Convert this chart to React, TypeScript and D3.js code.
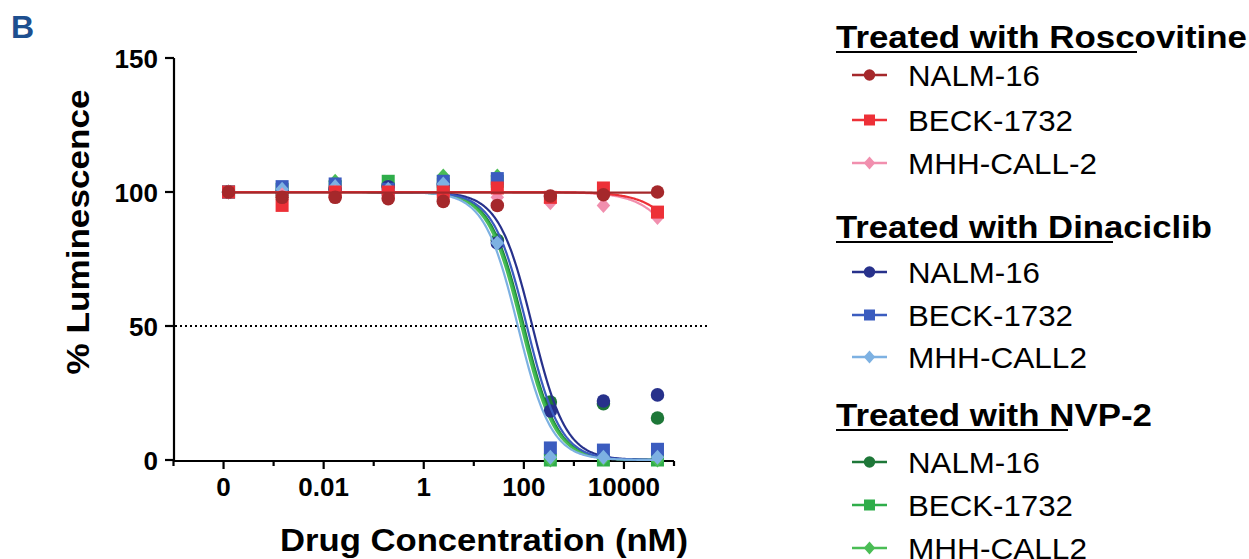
import React from 'react';
import * as d3 from 'd3';

// x positions are log10 of concentration as placed on the axis
const tickLogs = [-4, -2, 0, 2, 4];
const tickLabels = ['0', '0.01', '1', '100', '10000'];
const minorTickLogs = [-5, -3, -1, 1, 3, 5];
const yTicks = [0, 50, 100, 150];

const concLog = [-3.9, -2.83, -1.77, -0.71, 0.39, 1.47, 2.53, 3.59, 4.67];

const roscNALM = [100, 98, 98, 97.5, 96.5, 95, 98.5, 99, 100];
const roscBECK = [100, 95, 100, 100, 100, 101.5, 98, 101.5, 92.5];
const roscMHH = [100, 99, 100, 99, 99, 98, 96, 95, 90.5];
const dinaNALM = [100, 100, 101, 102, 103, 81, 18.3, 22, 24.3];
const dinaBECK = [100, 102, 103, 101, 104, 105, 4.5, 3.7, 4];
const dinaMHH = [100, 101, 102, 101, 103, 81, 1, 1, 1];
const nvpNALM = [100, 100, 101, 102.5, 100, 82, 21.6, 21, 15.7];
const nvpBECK = [100, 101, 102, 104, 103, 104, 0, 0, 0];
const nvpMHH = [100, 101, 104, 102, 106, 106, 0, 0.5, 0];

// 4PL fit parameters, order: rosc NALM, BECK, MHH, dina NALM, BECK, MHH, nvp NALM, BECK, MHH
const fitTop = [99.8, 100, 100, 100, 100, 100, 100, 100, 100];
const fitBottom = [0, 0, 0, 0, 0, 0, 0, 0, 0];
const fitLogIC50 = [12, 5.8, 5.65, 2.17, 2.06, 1.88, 2.0, 1.98, 1.95];
const fitHill = [1, 1, 1, 1.3, 1.3, 1.3, 1.3, 1.3, 1.3];

const groupTitles = ['Treated with Roscovitine', 'Treated with Dinaciclib', 'Treated with NVP-2'];
const cellNames = [
  ['NALM-16', 'BECK-1732', 'MHH-CALL-2'],
  ['NALM-16', 'BECK-1732', 'MHH-CALL2'],
  ['NALM-16', 'BECK-1732', 'MHH-CALL2'],
];

type Shape = 'circle' | 'square' | 'diamond';
const seriesValues = [roscNALM, roscBECK, roscMHH, dinaNALM, dinaBECK, dinaMHH, nvpNALM, nvpBECK, nvpMHH];
const seriesColors = ['#a5282b', '#ed3037', '#f18fae', '#27318b', '#3b5cbf', '#7db1e2', '#1e7738', '#2fad4a', '#4abd55'];
const seriesShapes: Shape[] = ['circle', 'square', 'diamond', 'circle', 'square', 'diamond', 'circle', 'square', 'diamond'];
const drawOrder = [6, 7, 8, 3, 4, 5, 2, 1, 0];

const W = 1249;
const H = 559;
const FONT = '"Liberation Sans", Arial, Helvetica, sans-serif';

const x = d3.scaleLinear().domain([-5, 5]).range([173.5, 674]);
const y = d3.scaleLinear().domain([0, 150]).range([460, 58]);

function fourPL(i: number, lx: number) {
  return fitBottom[i] + (fitTop[i] - fitBottom[i]) / (1 + Math.pow(10, (lx - fitLogIC50[i]) * fitHill[i]));
}

function Marker({ shape, cx, cy, color, s }: { shape: Shape; cx: number; cy: number; color: string; s: number }) {
  if (shape === 'circle') return <circle cx={cx} cy={cy} r={s * 0.52} fill={color} />;
  if (shape === 'square') return <rect x={cx - s / 2} y={cy - s / 2} width={s} height={s} fill={color} />;
  const hw = s * 0.52;
  const hh = s * 0.58;
  return <path d={`M${cx},${cy - hh}L${cx + hw},${cy}L${cx},${cy + hh}L${cx - hw},${cy}Z`} fill={color} />;
}

export default function App() {
  const samples = d3.range(concLog[0], concLog[concLog.length - 1] + 0.001, 0.02);
  const line = d3
    .line<[number, number]>()
    .x((d) => x(d[0]))
    .y((d) => y(d[1]))
    .curve(d3.curveLinear);

  const legendTitleY = [48, 238, 426];
  const legendTitleLen = [411, 376, 316];
  const legendUnderlineEnd = [1137, 1113, 1068];
  const legendItemY = [
    [75, 120, 163],
    [272, 315, 357],
    [462, 505, 548],
  ];
  const legendItemLen = [
    [132, 165, 189],
    [132, 165, 179],
    [132, 165, 179],
  ];

  return (
    <svg width={W} height={H} style={{ position: 'absolute', left: 0, top: 0, background: '#fff' }} fontFamily={FONT}>
      <rect width={W} height={H} fill="#fff" />
      {/* panel label */}
      <text x={11} y={38} fontSize={32} fontWeight="bold" fill="#1d4f8f">B</text>

      {/* y axis */}
      <line x1={174} x2={174} y1={y(150)} y2={y(0) + 1} stroke="#000" strokeWidth={2.2} />
      {yTicks.map((t) => (
        <g key={t}>
          <line x1={165} x2={174} y1={y(t)} y2={y(t)} stroke="#000" strokeWidth={2.2} />
          <text x={158} y={y(t) + 9.5} fontSize={26} fontWeight="bold" textAnchor="end">{t}</text>
        </g>
      ))}
      <text
        transform={`translate(89,232) rotate(-90)`}
        fontSize={32}
        fontWeight="bold"
        textAnchor="middle"
        textLength={285}
        lengthAdjust="spacingAndGlyphs"
      >
        % Luminescence
      </text>

      {/* x axis */}
      <line x1={x(-5)} x2={x(5)} y1={461} y2={461} stroke="#000" strokeWidth={2.2} />
      {tickLogs.map((t, i) => (
        <g key={t}>
          <line x1={x(t)} x2={x(t)} y1={461} y2={469} stroke="#000" strokeWidth={2.2} />
          <text x={x(t)} y={496} fontSize={26} fontWeight="bold" textAnchor="middle">{tickLabels[i]}</text>
        </g>
      ))}
      {minorTickLogs.map((t) => (
        <line key={t} x1={x(t)} x2={x(t)} y1={461} y2={466} stroke="#000" strokeWidth={2.2} />
      ))}
      <text
        x={484}
        y={551}
        fontSize={32}
        fontWeight="bold"
        textAnchor="middle"
        textLength={408}
        lengthAdjust="spacingAndGlyphs"
      >
        Drug Concentration (nM)
      </text>

      {/* 50% reference line */}
      <line x1={175} x2={708} y1={y(50)} y2={y(50)} stroke="#000" strokeWidth={1.8} strokeDasharray="2 3" />

      {/* series */}
      {drawOrder.map((i) => {
        const pts: [number, number][] = samples.map((lx) => [lx, fourPL(i, lx)]);
        return (
          <g key={i}>
            <path d={line(pts) || ''} fill="none" stroke={seriesColors[i]} strokeWidth={2.2} />
            {seriesValues[i].map((v, j) => (
              <Marker key={j} shape={seriesShapes[i]} cx={x(concLog[j])} cy={y(v)} color={seriesColors[i]} s={13} />
            ))}
          </g>
        );
      })}

      {/* legend */}
      {groupTitles.map((title, g) => (
        <g key={title}>
          <text
            x={836}
            y={legendTitleY[g]}
            fontSize={32}
            fontWeight="bold"
            textLength={legendTitleLen[g]}
            lengthAdjust="spacingAndGlyphs"
          >
            {title}
          </text>
          <line x1={836} x2={legendUnderlineEnd[g]} y1={legendTitleY[g] + 4} y2={legendTitleY[g] + 4} stroke="#000" strokeWidth={2.2} />
          {cellNames[g].map((name, k) => {
            const i = g * 3 + k;
            const cy = legendItemY[g][k];
            return (
              <g key={name + k}>
                <line x1={852} x2={887} y1={cy} y2={cy} stroke={seriesColors[i]} strokeWidth={2.5} />
                <Marker shape={seriesShapes[i]} cx={869.5} cy={cy} color={seriesColors[i]} s={11} />
                <text
                  x={908}
                  y={cy + 10.5}
                  fontSize={29}
                  textLength={legendItemLen[g][k]}
                  lengthAdjust="spacingAndGlyphs"
                >
                  {name}
                </text>
              </g>
            );
          })}
        </g>
      ))}
    </svg>
  );
}
